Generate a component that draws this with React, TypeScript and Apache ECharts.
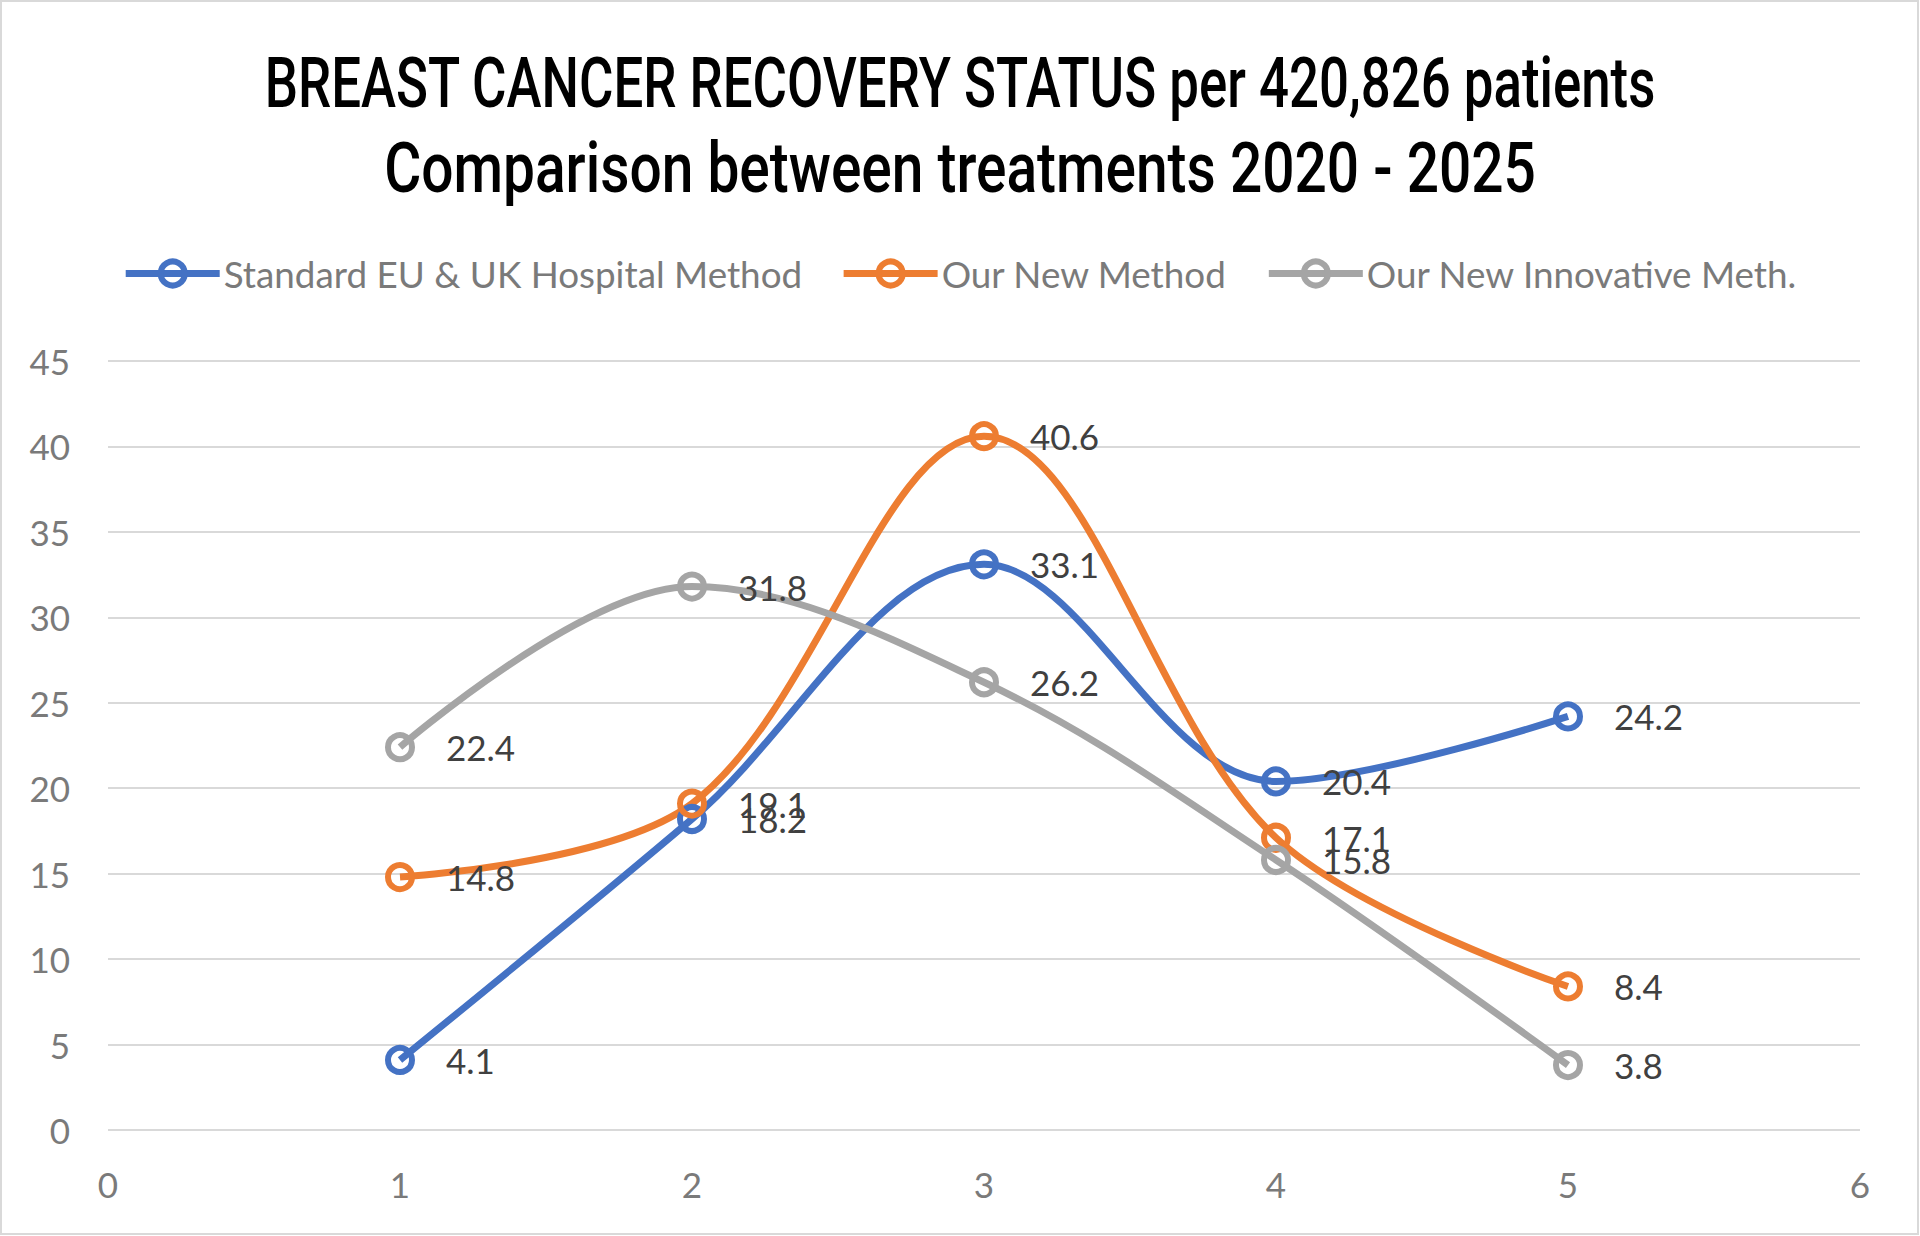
import React, { useEffect, useRef } from "react";
import * as echarts from "echarts";

const titleLines = [
  "BREAST CANCER RECOVERY STATUS per 420,826 patients",
  "Comparison between treatments 2020 - 2025",
];
const xValues = [1, 2, 3, 4, 5];
const seriesNames = [
  "Standard EU & UK Hospital Method",
  "Our New Method",
  "Our New Innovative Meth.",
];
const standardValues = [4.1, 18.2, 33.1, 20.4, 24.2];
const newMethodValues = [14.8, 19.1, 40.6, 17.1, 8.4];
const innovativeValues = [22.4, 31.8, 26.2, 15.8, 3.8];
const colors = ["#4472C4", "#ED7D31", "#A5A5A5"];

const FONT = "Lato, 'Open Sans', sans-serif";
const TITLE_FONT_FAMILY = "Roboto, 'DejaVu Sans Condensed', sans-serif";

function measure(text: string, font: string): number {
  const c = document.createElement("canvas");
  const ctx = c.getContext("2d");
  if (!ctx) return 0;
  ctx.font = font;
  return ctx.measureText(text).width;
}

export default function App() {
  const ref = useRef<HTMLDivElement>(null);
  useEffect(() => {
    document.body.style.margin = "0";
    if (!ref.current) return;
    const chart = echarts.init(ref.current, undefined, { renderer: "svg" });
    const titleFont = `500 70px ${TITLE_FONT_FAMILY}`;
    const w1 = measure(titleLines[0], titleFont);
    const w2 = measure(titleLines[1], titleFont);
    const sx1 = w1 > 0 ? 1392 / w1 : 1;
    const sx2 = w2 > 0 ? 1152 / w2 : 1;

    const makeSeries = (name: string, vals: number[], color: string) => ({
      name,
      type: "line",
      data: xValues.map((x, i) => [x, vals[i]]),
      smooth: 0.35,
      symbol: "circle",
      symbolSize: 24,
      lineStyle: { color, width: 7 },
      itemStyle: { color: "rgba(255,255,255,0)", borderColor: color, borderWidth: 6 },
      label: {
        show: true,
        position: "right",
        distance: 31,
        color: "#404040",
        fontSize: 35,
        fontFamily: FONT,
      },
      z: 2,
    });

    chart.setOption({
      animation: false,
      backgroundColor: "#ffffff",
      graphic: [
        {
          type: "rect",
          shape: { x: 1, y: 1, width: 1917, height: 1233 },
          style: { fill: "none", stroke: "#d9d9d9", lineWidth: 2 },
          silent: true,
        },
        {
          type: "text",
          x: 960,
          y: 83,
          scaleX: sx1,
          style: {
            text: titleLines[0],
            font: titleFont,
            fill: "#000000",
            textAlign: "center",
            textVerticalAlign: "middle",
          },
        },
        {
          type: "text",
          x: 960,
          y: 168,
          scaleX: sx2,
          style: {
            text: titleLines[1],
            font: titleFont,
            fill: "#000000",
            textAlign: "center",
            textVerticalAlign: "middle",
          },
        },
      ],
      legend: {
        top: 250,
        left: "center",
        itemWidth: 94,
        itemHeight: 30,
        itemGap: 38,
        lineStyle: { width: 7 },
        itemStyle: { borderWidth: 6 },
        textStyle: { color: "#7a7a7a", fontSize: 36.8, fontFamily: FONT, padding: [0, 0, 0, -1] },
        data: seriesNames,
      },
      grid: { left: 108, right: 60, top: 361, bottom: 106, containLabel: false },
      xAxis: {
        type: "value",
        min: 0,
        max: 6,
        interval: 1,
        axisLine: { show: false },
        axisTick: { show: false },
        splitLine: { show: false },
        axisLabel: { color: "#7a7a7a", fontSize: 35, fontFamily: FONT, margin: 36 },
      },
      yAxis: {
        type: "value",
        min: 0,
        max: 45,
        interval: 5,
        axisLine: { show: false },
        axisTick: { show: false },
        splitLine: { lineStyle: { color: "#d9d9d9", width: 2 } },
        axisLabel: { color: "#7a7a7a", fontSize: 35, fontFamily: FONT, margin: 38 },
      },
      series: [
        makeSeries(seriesNames[0], standardValues, colors[0]),
        makeSeries(seriesNames[1], newMethodValues, colors[1]),
        makeSeries(seriesNames[2], innovativeValues, colors[2]),
      ],
    });
    return () => chart.dispose();
  }, []);
  return <div ref={ref} style={{ width: 1920, height: 1236 }} />;
}
